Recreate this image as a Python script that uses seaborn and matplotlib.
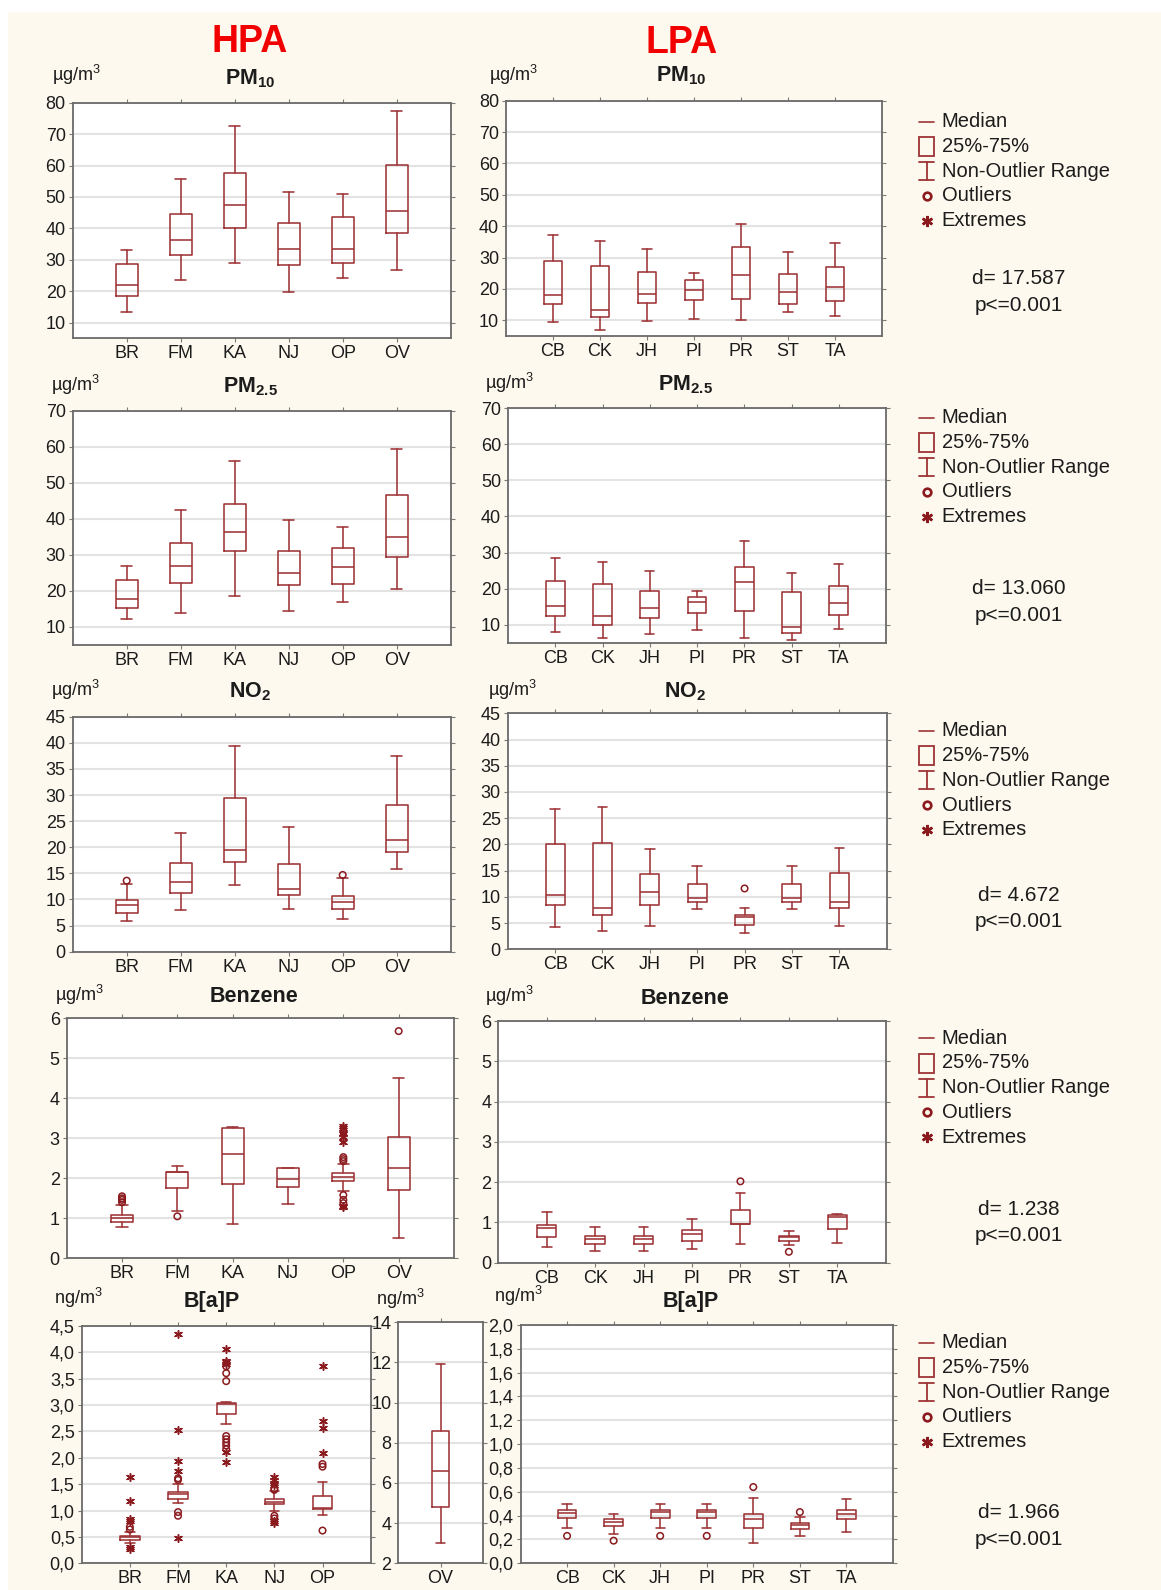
import numpy as np
import matplotlib
matplotlib.use("Agg")
import matplotlib.pyplot as plt
from matplotlib.lines import Line2D
from matplotlib.patches import Rectangle
from matplotlib.ticker import FuncFormatter
import seaborn as sns

sns.set_theme(style="white")
plt.rcParams["font.family"] = ["Liberation Sans", "DejaVu Sans"]
plt.rcParams["mathtext.fontset"] = "custom"
plt.rcParams["mathtext.rm"] = "Liberation Sans"
plt.rcParams["mathtext.bf"] = "Liberation Sans:bold"

# ---------------------------------------------------------------- data
HPA_SITES = ["BR", "FM", "KA", "NJ", "OP", "OV"]
LPA_SITES = ["CB", "CK", "JH", "PI", "PR", "ST", "TA"]
BAP_HPA_SITES = ["BR", "FM", "KA", "NJ", "OP"]
BAP_OV_SITE = ["OV"]

# PM10, HPA
pm10_hpa_lo = [13.5, 23.6, 29.1, 19.8, 24.3, 26.7]
pm10_hpa_q1 = [18.6, 31.4, 40.2, 28.3, 28.9, 38.6]
pm10_hpa_med = [22.1, 36.3, 47.4, 33.4, 33.4, 45.4]
pm10_hpa_q3 = [28.5, 44.5, 57.7, 41.8, 43.6, 60.1]
pm10_hpa_hi = [33.0, 55.6, 72.6, 51.5, 51.0, 77.4]

# PM10, LPA
pm10_lpa_lo = [9.5, 6.9, 9.7, 10.3, 10.0, 12.7, 11.5]
pm10_lpa_q1 = [15.2, 11.1, 15.4, 16.6, 16.9, 15.3, 16.2]
pm10_lpa_med = [18.0, 13.3, 18.5, 19.6, 24.4, 18.9, 20.6]
pm10_lpa_q3 = [28.9, 27.4, 25.4, 22.9, 33.3, 24.8, 27.0]
pm10_lpa_hi = [37.1, 35.2, 32.8, 25.2, 40.6, 31.9, 34.8]

# PM2.5, HPA
pm25_hpa_lo = [12.1, 13.8, 18.6, 14.4, 16.8, 20.4]
pm25_hpa_q1 = [15.3, 22.2, 31.1, 21.7, 22.0, 29.5]
pm25_hpa_med = [17.9, 26.9, 36.3, 25.1, 26.6, 35.0]
pm25_hpa_q3 = [23.0, 33.3, 44.1, 31.1, 31.8, 46.5]
pm25_hpa_hi = [26.8, 42.5, 56.0, 39.7, 37.8, 59.5]

# PM2.5, LPA
pm25_lpa_lo = [7.9, 6.3, 7.5, 8.4, 6.3, 5.8, 8.9]
pm25_lpa_q1 = [12.4, 10.0, 11.9, 13.2, 13.9, 7.7, 12.6]
pm25_lpa_med = [15.2, 12.5, 14.7, 16.3, 21.7, 9.4, 15.9]
pm25_lpa_q3 = [22.1, 21.2, 19.4, 17.8, 26.1, 19.1, 20.6]
pm25_lpa_hi = [28.5, 27.3, 25.0, 19.3, 33.1, 24.4, 26.8]

# NO2, HPA
no2_hpa_lo = [5.8, 8.0, 12.7, 8.1, 6.3, 15.8]
no2_hpa_q1 = [7.4, 11.3, 17.1, 10.9, 8.1, 19.1]
no2_hpa_med = [8.9, 13.3, 19.5, 12.0, 9.5, 21.3]
no2_hpa_q3 = [9.9, 17.0, 29.5, 16.7, 10.6, 28.0]
no2_hpa_hi = [13.0, 22.8, 39.4, 23.8, 14.2, 37.4]
no2_hpa_out_site = ["BR", "OP"]
no2_hpa_out_val = [13.6, 14.7]

# NO2, LPA
no2_lpa_lo = [4.3, 3.4, 4.5, 7.6, 3.2, 7.6, 4.5]
no2_lpa_q1 = [8.4, 6.5, 8.5, 9.1, 4.6, 9.1, 7.9]
no2_lpa_med = [10.4, 7.8, 10.9, 9.8, 6.1, 9.8, 9.1]
no2_lpa_q3 = [20.0, 20.3, 14.3, 12.5, 6.6, 12.5, 14.5]
no2_lpa_hi = [26.8, 27.2, 19.2, 15.9, 7.9, 15.9, 19.4]
no2_lpa_out_site = ["PR"]
no2_lpa_out_val = [11.6]

# Benzene, HPA
benz_hpa_lo = [0.78, 1.19, 0.86, 1.36, 1.68, 0.50]
benz_hpa_q1 = [0.90, 1.77, 1.87, 1.79, 1.93, 1.72]
benz_hpa_med = [1.00, 2.17, 2.62, 1.99, 2.04, 2.26]
benz_hpa_q3 = [1.09, 2.17, 3.27, 2.25, 2.13, 3.03]
benz_hpa_hi = [1.33, 2.31, 3.28, 2.25, 2.36, 4.50]
benz_hpa_out_site = ["BR", "BR", "BR", "BR", "FM", "OP", "OP", "OP",
                     "OP", "OP", "OP", "OV"]
benz_hpa_out_val = [1.40, 1.46, 1.50, 1.55, 1.05, 2.43, 2.48, 2.53,
                    1.58, 1.46, 1.38, 5.68]
benz_hpa_ext_site = ["OP", "OP", "OP", "OP", "OP", "OP", "OP", "OP"]
benz_hpa_ext_val = [3.32, 3.25, 3.14, 3.11, 3.04, 2.92, 1.32, 1.28]

# Benzene, LPA
benz_lpa_lo = [0.38, 0.28, 0.28, 0.33, 0.46, 0.43, 0.49]
benz_lpa_q1 = [0.64, 0.46, 0.46, 0.54, 0.96, 0.55, 0.84]
benz_lpa_med = [0.85, 0.60, 0.58, 0.72, 0.96, 0.64, 1.14]
benz_lpa_q3 = [0.93, 0.67, 0.67, 0.80, 1.31, 0.67, 1.19]
benz_lpa_hi = [1.26, 0.89, 0.89, 1.08, 1.74, 0.78, 1.22]
benz_lpa_out_site = ["PR", "ST"]
benz_lpa_out_val = [2.02, 0.27]

# B[a]P, HPA (OV drawn on its own scale)
bap_hpa_lo = [0.38, 1.14, 2.64, 0.99, 0.91]
bap_hpa_q1 = [0.45, 1.22, 2.82, 1.12, 1.02]
bap_hpa_med = [0.49, 1.31, 3.01, 1.17, 1.05]
bap_hpa_q3 = [0.52, 1.35, 3.03, 1.21, 1.27]
bap_hpa_hi = [0.59, 1.51, 3.05, 1.36, 1.54]
bap_hpa_out_site = ["BR", "BR", "FM", "FM", "FM", "FM",
                    "KA", "KA", "KA", "KA", "KA", "KA", "KA", "KA",
                    "NJ", "NJ", "NJ", "NJ", "OP", "OP", "OP"]
bap_hpa_out_val = [0.64, 0.69, 1.58, 1.61, 0.97, 0.90,
                   3.73, 3.60, 3.45, 2.41, 2.35, 2.29, 2.23, 2.16,
                   1.41, 1.39, 0.90, 0.85, 1.88, 1.83, 0.62]
bap_hpa_ext_site = ["BR", "BR", "BR", "BR", "BR", "BR",
                    "FM", "FM", "FM", "FM", "FM",
                    "KA", "KA", "KA", "KA", "KA", "KA",
                    "NJ", "NJ", "NJ", "NJ", "NJ", "NJ",
                    "OP", "OP", "OP", "OP"]
bap_hpa_ext_val = [1.64, 1.18, 0.83, 0.81, 0.30, 0.27,
                   4.34, 2.52, 1.93, 1.74, 0.47,
                   4.05, 3.84, 3.81, 3.77, 2.11, 1.91,
                   1.63, 1.58, 1.53, 1.48, 0.81, 0.76,
                   3.74, 2.70, 2.56, 2.08]
bap_ov_lo = [3.0]
bap_ov_q1 = [4.79]
bap_ov_med = [6.60]
bap_ov_q3 = [8.59]
bap_ov_hi = [11.91]

# B[a]P, LPA
bap_lpa_lo = [0.30, 0.25, 0.30, 0.30, 0.17, 0.23, 0.26]
bap_lpa_q1 = [0.38, 0.31, 0.38, 0.38, 0.30, 0.29, 0.37]
bap_lpa_med = [0.42, 0.35, 0.43, 0.43, 0.37, 0.32, 0.41]
bap_lpa_q3 = [0.45, 0.37, 0.45, 0.45, 0.41, 0.34, 0.45]
bap_lpa_hi = [0.50, 0.41, 0.50, 0.50, 0.55, 0.39, 0.54]
bap_lpa_out_site = ["CB", "CK", "JH", "PI", "PR", "ST"]
bap_lpa_out_val = [0.23, 0.19, 0.23, 0.23, 0.64, 0.43]

# test statistic per pollutant
D_VALUES = ["17.587", "13.060", "4.672", "1.238", "1.966"]
LEGEND_LABELS = ["Median", "25%-75%", "Non-Outlier Range", "Outliers", "Extremes"]

# ---------------------------------------------------------------- style
W, H = 1161, 1590
BOX = "#9E3336"
MARK = "#8A1A1E"
TXT = "#1c1c1c"
CREAM = "#FDF9EE"

fig = plt.figure(figsize=(W / 100, H / 100), dpi=100, facecolor="white")

# full-figure layer in pixel units for backdrop, headings and legends
bg = fig.add_axes([0, 0, 1, 1])
bg.set_xlim(0, W)
bg.set_ylim(H, 0)
bg.axis("off")
bg.add_patch(Rectangle((8, 12), W - 8, H - 12, facecolor=CREAM, edgecolor="none", zorder=0))


def px_axes(x0, y0, x1, y1):
    return fig.add_axes([x0 / W, 1 - y1 / H, (x1 - x0) / W, (y1 - y0) / H])


def _clean(v):
    return 0.0 if abs(v) < 1e-9 else v


comma = FuncFormatter(lambda v, p: f"{_clean(v):.1f}".replace(".", ","))
integer = FuncFormatter(lambda v, p: f"{_clean(v):.0f}")


def flier_points(ax, sites, names, vals, kind):
    if not names:
        return
    xs = [sites.index(n) + 1 for n in names]
    if kind == "out":
        sns.scatterplot(x=xs, y=vals, ax=ax, marker="o", s=22, color=MARK,
                        linewidth=1.1, zorder=4, legend=False)
        coll = ax.collections[-1]
        coll.set_facecolor("none")
        coll.set_edgecolor(MARK)
    else:
        sns.scatterplot(x=xs, y=vals, ax=ax, marker=(6, 2, 0), s=30, color=MARK,
                        linewidth=1.1, zorder=4, legend=False)
        coll = ax.collections[-1]
        coll.set_edgecolor(MARK)


def box_panel(ax, sites, lo, q1, med, q3, hi, ylim, step, fmt,
              out=((), ()), ext=((), ())):
    stats = [dict(label=s, whislo=a, q1=b, med=c, q3=d, whishi=e, fliers=[])
             for s, a, b, c, d, e in zip(sites, lo, q1, med, q3, hi)]
    pos = np.arange(1, len(sites) + 1)
    lp = dict(color=BOX, linewidth=1.15)
    ax.bxp(stats, positions=pos, widths=0.4, capwidths=0.2, showfliers=False,
           boxprops=lp, medianprops=lp, whiskerprops=lp, capprops=lp)
    flier_points(ax, sites, list(out[0]), list(out[1]), "out")
    flier_points(ax, sites, list(ext[0]), list(ext[1]), "ext")
    ax.set_xlim(0, len(sites) + 1)
    ax.set_ylim(*ylim)
    first = np.ceil(round(ylim[0] / step, 6)) * step
    ax.set_yticks(np.arange(first, ylim[1] + step * 0.01, step))
    ax.yaxis.set_major_formatter(fmt)
    ax.set_xticks(pos)
    ax.set_xticklabels(sites)
    ax.set_facecolor("white")
    ax.yaxis.grid(True, color="#E3E3E3", linewidth=1.5)
    ax.xaxis.grid(False)
    ax.set_axisbelow(True)
    for sp in ax.spines.values():
        sp.set_color("#6a6a6a")
        sp.set_linewidth(1.3)
    ax.tick_params(axis="both", direction="out", length=3, width=0.8,
                   color="#7a7a7a", labelsize=13, labelcolor=TXT, pad=2,
                   top=True, right=True, bottom=True, left=True,
                   labeltop=False, labelright=False)
    ax.set_xlabel("")
    ax.set_ylabel("")


# ---------------------------------------------------------------- panels
ax = px_axes(72.7, 102.7, 450.7, 338.3)
box_panel(ax, HPA_SITES, pm10_hpa_lo, pm10_hpa_q1, pm10_hpa_med, pm10_hpa_q3,
          pm10_hpa_hi, (5, 80), 10, integer)
ax = px_axes(506, 100.7, 882, 336)
box_panel(ax, LPA_SITES, pm10_lpa_lo, pm10_lpa_q1, pm10_lpa_med, pm10_lpa_q3,
          pm10_lpa_hi, (5, 80), 10, integer)

ax = px_axes(72.7, 410.7, 450.7, 645)
box_panel(ax, HPA_SITES, pm25_hpa_lo, pm25_hpa_q1, pm25_hpa_med, pm25_hpa_q3,
          pm25_hpa_hi, (5, 70), 10, integer)
ax = px_axes(508, 408.3, 886, 642.7)
box_panel(ax, LPA_SITES, pm25_lpa_lo, pm25_lpa_q1, pm25_lpa_med, pm25_lpa_q3,
          pm25_lpa_hi, (5, 70), 10, integer)

ax = px_axes(72.7, 716.7, 450.7, 951.7)
box_panel(ax, HPA_SITES, no2_hpa_lo, no2_hpa_q1, no2_hpa_med, no2_hpa_q3,
          no2_hpa_hi, (0, 45), 5, integer, out=(no2_hpa_out_site, no2_hpa_out_val))
ax = px_axes(507.7, 713.3, 886.7, 949.3)
box_panel(ax, LPA_SITES, no2_lpa_lo, no2_lpa_q1, no2_lpa_med, no2_lpa_q3,
          no2_lpa_hi, (0, 45), 5, integer, out=(no2_lpa_out_site, no2_lpa_out_val))

ax = px_axes(66.7, 1018.3, 454, 1258.3)
box_panel(ax, HPA_SITES, benz_hpa_lo, benz_hpa_q1, benz_hpa_med, benz_hpa_q3,
          benz_hpa_hi, (0, 6), 1, integer,
          out=(benz_hpa_out_site, benz_hpa_out_val),
          ext=(benz_hpa_ext_site, benz_hpa_ext_val))
ax = px_axes(498.3, 1021, 885.7, 1262.7)
box_panel(ax, LPA_SITES, benz_lpa_lo, benz_lpa_q1, benz_lpa_med, benz_lpa_q3,
          benz_lpa_hi, (0, 6), 1, integer,
          out=(benz_lpa_out_site, benz_lpa_out_val))

ax = px_axes(81.7, 1325.7, 370.7, 1563.3)
box_panel(ax, BAP_HPA_SITES, bap_hpa_lo, bap_hpa_q1, bap_hpa_med, bap_hpa_q3,
          bap_hpa_hi, (0, 4.5), 0.5, comma,
          out=(bap_hpa_out_site, bap_hpa_out_val),
          ext=(bap_hpa_ext_site, bap_hpa_ext_val))
ax = px_axes(398.3, 1322.3, 482.7, 1563.3)
box_panel(ax, BAP_OV_SITE, bap_ov_lo, bap_ov_q1, bap_ov_med, bap_ov_q3,
          bap_ov_hi, (2, 14), 2, integer)
ax = px_axes(520.5, 1325, 893, 1563.3)
box_panel(ax, LPA_SITES, bap_lpa_lo, bap_lpa_q1, bap_lpa_med, bap_lpa_q3,
          bap_lpa_hi, (0, 2.0), 0.2, comma,
          out=(bap_lpa_out_site, bap_lpa_out_val))

# ---------------------------------------------------------------- headings
bg.text(250, 42, "HPA", color="#F20000", fontsize=27, fontweight="bold",
        ha="center", va="center")
bg.text(682, 43, "LPA", color="#F20000", fontsize=27, fontweight="bold",
        ha="center", va="center")

TITLES = [r"$\mathbf{PM}_{\mathbf{10}}$", r"$\mathbf{PM}_{\mathbf{2.5}}$",
          r"$\mathbf{NO}_{\mathbf{2}}$", "Benzene", "B[a]P"]
title_left = [(250, 79), (250, 387), (250, 692), (254, 996), (212, 1302)]
title_right = [(681, 76), (685, 385), (685, 692), (685, 999), (691, 1302)]
unit_left = [(51.7, 75), (50.7, 385), (50.7, 690), (55, 995), (54.3, 1298)]
unit_right = [(489, 75), (485, 383), (488, 690), (485, 996), (493.7, 1296)]
UNITS = ["µg/m$^3$", "µg/m$^3$", "µg/m$^3$", "µg/m$^3$", "ng/m$^3$"]

for i in range(5):
    for (x, y) in (title_left[i], title_right[i]):
        bg.text(x, y, TITLES[i], color=TXT, fontsize=15.5, fontweight="bold",
                ha="center", va="center")
    for (x, y) in (unit_left[i], unit_right[i]):
        bg.text(x, y, UNITS[i], color=TXT, fontsize=13, ha="left", va="center")
bg.text(376, 1299, "ng/m$^3$", color=TXT, fontsize=13, ha="left", va="center")

# ---------------------------------------------------------------- legends
legend_top = [121.7, 417.8, 731, 1038.3, 1342.7]
d_y = [279, 589, 895.4, 1209.3, 1512.7]
GX0, GX1, GXC, TX = 919, 934, 926.5, 941.7
STEP = 24.7

for i in range(5):
    y0 = legend_top[i]
    ys = [y0 + k * STEP for k in range(5)]
    bg.add_line(Line2D([GX0, GX1], [ys[0], ys[0]], color=BOX, lw=1.2))
    bg.add_patch(Rectangle((GX0, ys[1] - 9.5), GX1 - GX0, 19, facecolor="none",
                           edgecolor=BOX, lw=1.3))
    bg.add_line(Line2D([GXC, GXC], [ys[2] - 9, ys[2] + 9], color=BOX, lw=1.3))
    bg.add_line(Line2D([GX0, GX1], [ys[2] - 9, ys[2] - 9], color=BOX, lw=1.3))
    bg.add_line(Line2D([GX0, GX1], [ys[2] + 9, ys[2] + 9], color=BOX, lw=1.3))
    bg.add_line(Line2D([GXC], [ys[3]], marker="o", markersize=5.5, mfc="none",
                       mec=MARK, mew=1.9, ls="none"))
    bg.add_line(Line2D([GXC], [ys[4]], marker=(6, 2, 0), markersize=8,
                       mec=MARK, mew=1.8, ls="none"))
    for lab, y in zip(LEGEND_LABELS, ys):
        bg.text(TX, y, lab, color=TXT, fontsize=14.5, ha="left", va="center")
    bg.text(1019, d_y[i], f"d= {D_VALUES[i]}", color=TXT, fontsize=15,
            ha="center", va="center")
    bg.text(1019, d_y[i] + 26.5, "p<=0.001", color=TXT, fontsize=15,
            ha="center", va="center")

fig.savefig("out.png", dpi=100, facecolor="white")
